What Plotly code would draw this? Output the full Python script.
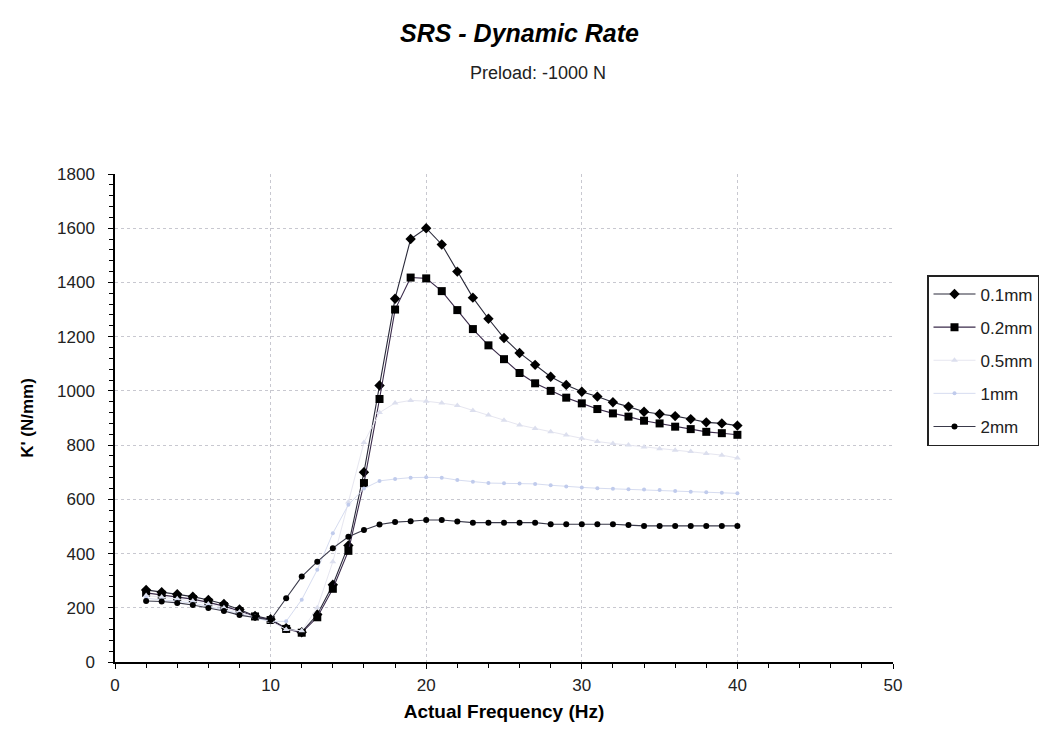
import plotly.graph_objects as go

freq = list(range(2, 41))

k_01mm = [266, 257, 250, 241, 229, 214, 194, 170, 158, 125, 110, 175, 285, 430, 700, 1020,
          1340, 1560, 1600, 1540, 1440, 1344, 1266, 1195, 1140, 1096, 1052, 1022, 997, 979,
          958, 942, 923, 915, 907, 896, 884, 880, 872]
k_02mm = [255, 248, 240, 232, 220, 206, 188, 168, 155, 122, 108, 165, 270, 410, 660, 970,
          1300, 1418, 1415, 1368, 1298, 1228, 1168, 1117, 1066, 1028, 1000, 975, 954, 933,
          917, 905, 890, 880, 868, 859, 849, 844, 838]
k_05mm = [245, 240, 233, 225, 214, 200, 184, 165, 150, 120, 115, 200, 370, 590, 810, 920,
          955, 965, 962, 955, 946, 928, 911, 892, 874, 861, 849, 837, 825, 813,
          806, 800, 793, 787, 781, 776, 769, 763, 752]
k_1mm = [235, 230, 224, 217, 206, 193, 178, 162, 150, 150, 230, 340, 475, 580, 640, 668,
         675, 680, 681, 680, 671, 665, 660, 659, 658, 657, 652, 647, 644, 641,
         639, 637, 636, 634, 631, 628, 626, 624, 622]
k_2mm = [225, 223, 218, 210, 199, 188, 173, 164, 155, 235, 315, 370, 420, 462, 487, 507,
         516, 519, 524, 524, 518, 514, 514, 514, 514, 514, 508, 508, 508, 508,
         508, 505, 502, 502, 502, 502, 502, 502, 502]

series_names = ["0.1mm", "0.2mm", "0.5mm", "1mm", "2mm"]
series_values = [k_01mm, k_02mm, k_05mm, k_1mm, k_2mm]
styles = [
    dict(line=dict(color="#2a2a3a", width=1.1), marker=dict(symbol="diamond", size=8, color="black")),
    dict(line=dict(color="#3a2a4a", width=1.1), marker=dict(symbol="square", size=8, color="black")),
    dict(line=dict(color="#e6e6f0", width=1), marker=dict(symbol="triangle-up", size=6, color="#dcdfee")),
    dict(line=dict(color="#d6dcf0", width=1), marker=dict(symbol="circle", size=4, color="#c0cbec")),
    dict(line=dict(color="#3a3a4a", width=1.1), marker=dict(symbol="circle", size=6, color="black")),
]

fig = go.Figure()
for i, (name, vals, st) in enumerate(zip(series_names, series_values, styles)):
    fig.add_trace(go.Scatter(x=freq, y=vals, name=name, mode="lines+markers",
                             legendgroup=f"g{i}", **st))

W, H = 1040, 722
ML, MR, MT, MB = 107, 155, 166, 68
pw, ph = W - ML - MR, H - MT - MB


def px_to_paper(x, y):
    # x, y in screenshot pixels (page has 8px body margin)
    return (x - 8 - ML) / pw, (H - MB - (y - 8)) / ph


tx, ty = px_to_paper(519, 33)
sx, sy = px_to_paper(538, 73)
lx, ly = px_to_paper(927, 275)

font = "Liberation Sans, Arial, sans-serif"
fig.update_layout(
    width=W, height=H,
    paper_bgcolor="white", plot_bgcolor="white",
    margin=dict(l=ML, r=MR, t=MT, b=MB, autoexpand=False),
    font=dict(family=font, size=17, color="#222"),
    showlegend=True,
    legend=dict(x=lx, y=ly, xanchor="left", yanchor="top",
                bordercolor="#222", borderwidth=1.5, bgcolor="white",
                font=dict(size=17, color="#222"), tracegroupgap=8,
                itemwidth=42),
    annotations=[
        dict(text="<b><i>SRS - Dynamic Rate</i></b>", x=tx, y=ty, xref="paper", yref="paper",
             xanchor="center", yanchor="middle",
             showarrow=False, font=dict(size=25, color="black")),
        dict(text="Preload: -1000 N", x=sx, y=sy, xref="paper", yref="paper",
             xanchor="center", yanchor="middle",
             showarrow=False, font=dict(size=18, color="#222")),
    ],
)

fig.update_xaxes(range=[0, 50], dtick=10, tick0=0,
                 showgrid=True, gridcolor="#c8c8d0", griddash="dot", gridwidth=1,
                 showline=True, linecolor="black", linewidth=1.5,
                 ticks="outside", ticklen=5, tickcolor="black", ticklabelstandoff=2,
                 minor=dict(dtick=2, ticks="outside", ticklen=4, tickcolor="black", showgrid=False),
                 zeroline=False,
                 title=dict(text="<b>Actual Frequency (Hz)</b>", standoff=11, font=dict(size=19, color="black")))
fig.update_yaxes(range=[0, 1800], dtick=200, tick0=0,
                 showgrid=True, gridcolor="#c8c8d0", griddash="dot", gridwidth=1,
                 showline=True, linecolor="black", linewidth=1.5,
                 ticks="outside", ticklen=5, tickcolor="black", ticklabelstandoff=10,
                 minor=dict(dtick=40, ticks="outside", ticklen=4, tickcolor="black", showgrid=False),
                 zeroline=False,
                 title=dict(text="<b>K' (N/mm)</b>", standoff=19, font=dict(size=17, color="black")))

fig.write_html("out.html")
